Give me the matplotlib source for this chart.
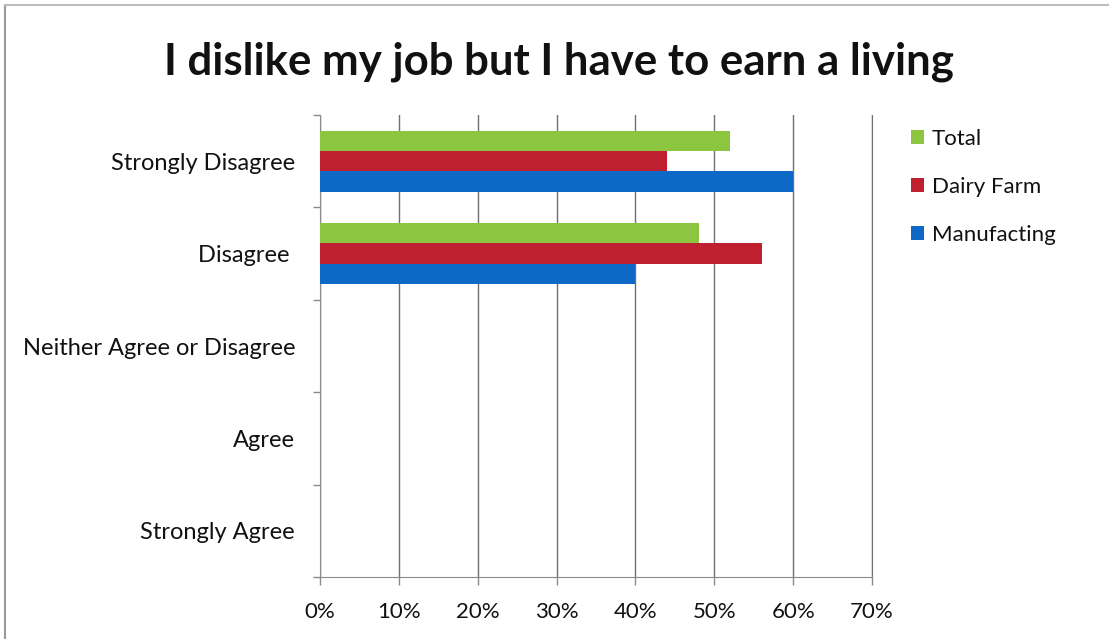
import matplotlib.pyplot as plt
import numpy as np
from matplotlib.lines import Line2D
from matplotlib.patches import Patch
from matplotlib.ticker import FuncFormatter


TITULO = "I dislike my job but I have to earn a living"
CATEGORIAS = [
    "Strongly Disagree",
    "Disagree ",
    "Neither Agree or Disagree",
    "Agree",
    "Strongly Agree",
]
SERIES = ["Total", "Dairy Farm", "Manufacting"]
TOTAL = [52, 48, 0, 0, 0]
DAIRY_FARM = [44, 56, 0, 0, 0]
MANUFACTURING = [60, 40, 0, 0, 0]
X_TICKS = [0, 10, 20, 30, 40, 50, 60, 70]

COLORES = ["#8cc640", "#bf2030", "#0e68c6"]
FUENTE = ["Lato", "DejaVu Sans"]


def main():
    plt.rcParams["font.family"] = FUENTE

    fig = plt.figure(figsize=(11.09, 6.39), dpi=100)
    ax = fig.add_axes([0.2886, 0.097, 0.4977, 0.723])

    posiciones = np.arange(len(CATEGORIAS))
    alto = 0.22
    valores = [TOTAL, DAIRY_FARM, MANUFACTURING]
    for i, (serie, vals, color) in enumerate(zip(SERIES, valores, COLORES)):
        ax.barh(posiciones + (i - 1) * alto, vals, height=alto, color=color,
                label=serie, zorder=3)

    ax.set_xlim(0, 70)
    ax.set_ylim(len(CATEGORIAS) - 0.5, -0.5)

    ax.set_xticks(X_TICKS)
    ax.xaxis.set_major_formatter(FuncFormatter(lambda v, _: f"{v:.0f}%"))
    ax.grid(axis="x", color="#707070", lw=1.0, zorder=1)
    ax.tick_params(axis="x", length=6, width=1, color="#8a8a8a", pad=12,
                   labelsize=16, labelcolor="#111111")

    ax.set_yticks(posiciones)
    ax.set_yticklabels(CATEGORIAS)
    ax.set_yticks(np.arange(len(CATEGORIAS) + 1) - 0.5, minor=True)
    ax.tick_params(axis="y", which="major", length=0, pad=18, labelsize=17,
                   labelcolor="#111111")
    ax.tick_params(axis="y", which="minor", length=5, width=1, color="#8a8a8a")

    ax.spines["top"].set_visible(False)
    # la última línea de la cuadrícula (70%) queda como borde derecho
    ax.spines["right"].set_color("#707070")
    ax.spines["left"].set_color("#8a8a8a")
    ax.spines["bottom"].set_color("#8a8a8a")

    fig.text(0.504, 0.903, TITULO, ha="center", va="center", fontsize=31.5,
             fontweight="bold", color="#111111")

    handles = [Patch(facecolor=c, edgecolor="none") for c in COLORES]
    fig.legend(handles, SERIES, loc="upper left", bbox_to_anchor=(0.813, 0.812),
               frameon=False, fontsize=16, handlelength=0.6, handleheight=0.6,
               handletextpad=0.35, labelspacing=1.25, borderaxespad=0,
               labelcolor="#111111")

    # marco del área del gráfico
    fig.add_artist(Line2D([0.0045, 0.0045], [0.0, 0.992], color="#9a9a9a",
                          lw=1.5, transform=fig.transFigure))
    fig.add_artist(Line2D([0.0045, 1.0], [0.992, 0.992], color="#bdbdbd",
                          lw=1.5, transform=fig.transFigure))

    fig.savefig("out.png", dpi=100)


if __name__ == "__main__":
    main()
